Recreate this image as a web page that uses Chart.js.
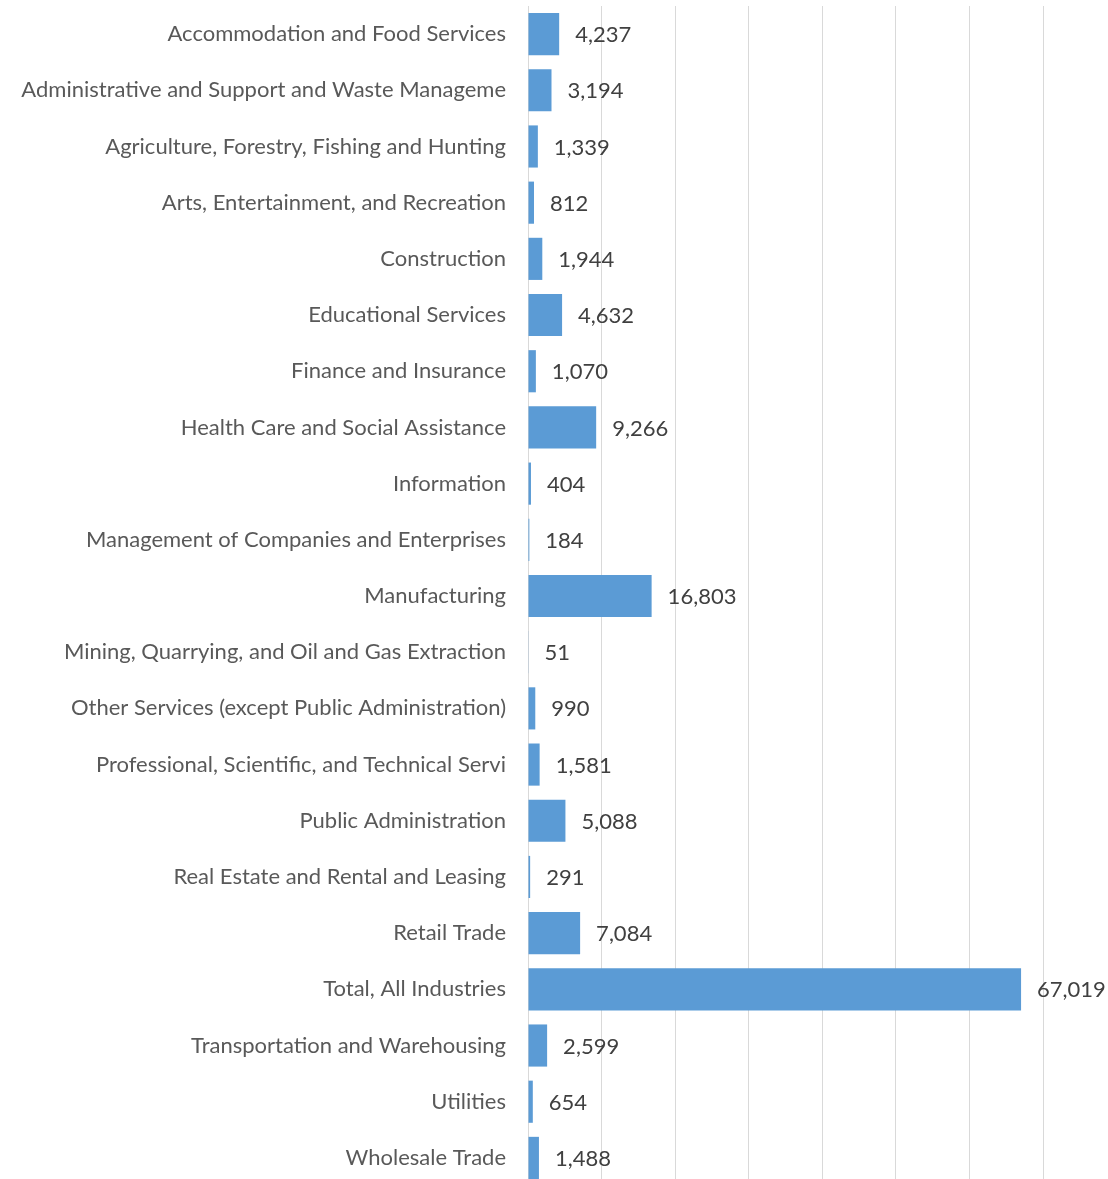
<!DOCTYPE html>
<html lang="en"><head>
<title>Industries Chart</title>
<meta charset="utf-8">
<style type="text/css">
body { margin:0; background-color:#ffffff; overflow:hidden; }
#box { width:1108px; height:1190px; position:relative; }
</style>
<script src="https://cdn.jsdelivr.net/npm/chart.js"></script>
<script>

var industries=["Accommodation and Food Services","Administrative and Support and Waste Manageme",
  "Agriculture, Forestry, Fishing and Hunting","Arts, Entertainment, and Recreation","Construction",
  "Educational Services","Finance and Insurance","Health Care and Social Assistance","Information",
  "Management of Companies and Enterprises","Manufacturing","Mining, Quarrying, and Oil and Gas Extraction",
  "Other Services (except Public Administration)","Professional, Scientific, and Technical Servi",
  "Public Administration","Real Estate and Rental and Leasing","Retail Trade","Total, All Industries",
  "Transportation and Warehousing","Utilities","Wholesale Trade"];
var jobs=[4237,3194,1339,812,1944,4632,1070,9266,404,184,16803,51,990,1581,5088,291,7084,67019,2599,654,1488];
var xMax=70000, xStep=10000;

var fontName="Lato";

// value labels right of each bar
var valueLabels={id:'valueLabels',afterDatasetsDraw:function(chart) {
  var ctx=chart.ctx, meta=chart.getDatasetMeta(0);
  ctx.save(); ctx.fillStyle="#404040"; ctx.font="22px "+fontName;
  ctx.textAlign="left"; ctx.textBaseline="middle";
  meta.data.forEach(function(bar,i) {
    ctx.fillText(jobs[i].toLocaleString("en-US"),bar.x+16,bar.y+1); });
  ctx.restore(); }};

function noPad(s) { s.paddingTop=0; s.paddingBottom=0; s.paddingLeft=0; s.paddingRight=0; }

function initChart() {
  new Chart(document.getElementById("jobsChart"),{type:'bar',
    data:{labels:industries,datasets:[{data:jobs,backgroundColor:'#5b9bd5',borderWidth:0,
      categoryPercentage:1,barPercentage:0.75}]},
    options:{indexAxis:'y',responsive:false,animation:false,
      layout:{autoPadding:false,padding:{top:6,right:65,bottom:4,left:0}},
      plugins:{legend:{display:false},title:{display:false},tooltip:{enabled:false}},
      scales:{
        x:{min:0,max:xMax,ticks:{display:false,stepSize:xStep},
          afterFit:function(s){s.height=0;noPad(s);},
          grid:{color:'#d9d9d9',lineWidth:1,drawTicks:false},border:{display:false}},
        y:{grid:{display:false,drawTicks:false},border:{display:false},
          afterFit:function(s){s.width=528;noPad(s);},
          ticks:{color:'#595959',font:{family:fontName,size:22},padding:22}}}},
    plugins:[valueLabels]}); }

</script></head>
<body onload="initChart();">
<div id="box"><canvas id="jobsChart" width="1108" height="1190"></canvas></div>
</body></html>
